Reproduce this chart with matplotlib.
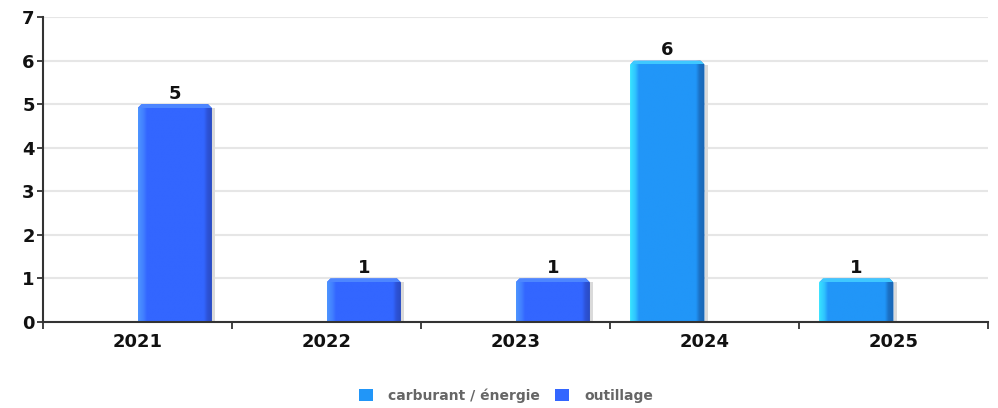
import numpy as np
import matplotlib.pyplot as plt
from matplotlib.colors import LinearSegmentedColormap
from matplotlib.patches import Patch, Polygon

years = ['2021', '2022', '2023', '2024', '2025']
carburant = [0, 0, 0, 6, 1]
outillage = [5, 1, 1, 0, 0]
series_names = ['carburant / énergie', 'outillage']

# main colour, top bevel colour, gradient stops (left highlight, body, right shade)
styles = {
    'carburant / énergie': ('#2196F8', '#3FC8FF',
                            ['#38E4FF', '#2FC4FF', '#2196F8', '#2196F8', '#1B70C4', '#1A66B4']),
    'outillage': ('#3366FF', '#4D86FF',
                  ['#4D95FF', '#4280FF', '#3366FF', '#3366FF', '#2D52D6', '#284ABF']),
}

W, H = 998, 408
AX = [43, 86, 945, 305]  # left, bottom, width, height in px
XLIM = (-0.5, 4.5)
YLIM = (0, 7)
px_x = (XLIM[1] - XLIM[0]) / AX[2]
px_y = (YLIM[1] - YLIM[0]) / AX[3]


def gradient_bars(ax, x, values, width, name):
    main, top, stops = styles[name]
    cmap = LinearSegmentedColormap.from_list(
        name, list(zip([0.0, 0.07, 0.12, 0.88, 0.93, 1.0], stops)))
    bars = ax.bar(x, values, width, color='none', edgecolor='none', zorder=2)
    grad = np.linspace(0, 1, 256).reshape(1, -1)
    for rect, v in zip(bars, values):
        if v == 0:
            continue
        x0 = rect.get_x()
        w = rect.get_width()
        c = 4 * px_x
        cy = 4 * px_y
        clip = Polygon([(x0, 0), (x0, v - cy), (x0 + c, v), (x0 + w - c, v),
                        (x0 + w, v - cy), (x0 + w, 0)], closed=True,
                       transform=ax.transData, facecolor='none', edgecolor='none')
        ax.add_patch(clip)
        # soft shadow to the right
        ax.bar(x0 + w, v - cy, 3 * px_x, align='edge', color='#DADADA',
               edgecolor='none', zorder=1.5)
        im = ax.imshow(grad, extent=(x0, x0 + w, 0, v), aspect='auto',
                       cmap=cmap, zorder=3, interpolation='bilinear')
        im.set_clip_path(clip)
        # top bevel
        tb = ax.bar(x0, 3.5 * px_y, w, bottom=v - 3.5 * px_y, align='edge',
                    color=top, edgecolor='none', zorder=3.5)
        tb[0].set_clip_path(clip)
    return bars


fig = plt.figure(figsize=(W / 100, H / 100), dpi=100)
ax = fig.add_axes([AX[0] / W, AX[1] / H, AX[2] / W, AX[3] / H])
ax.set_xlim(*XLIM)
ax.set_ylim(*YLIM)

x = np.arange(len(years))
bw = 0.394
b1 = gradient_bars(ax, x - bw / 2, carburant, bw, series_names[0])
b2 = gradient_bars(ax, x + bw / 2, outillage, bw, series_names[1])

for bars, vals in [(b1, carburant), (b2, outillage)]:
    ax.bar_label(bars, labels=[str(v) if v else '' for v in vals], padding=1,
                 fontsize=13, fontweight='bold', color='#111111', zorder=4)

ax.set_xlim(*XLIM)
ax.set_ylim(*YLIM)
ax.set_yticks(range(8))
ax.set_xticks(x)
ax.set_xticklabels(years)
ax.set_xticks(np.arange(-0.5, len(years)), minor=True)
ax.tick_params(axis='x', which='major', length=0, pad=8)
ax.tick_params(axis='x', which='minor', length=5, width=1.3, color='#333333')
ax.tick_params(axis='y', length=4, width=1.3, color='#333333', pad=2)
for lab in ax.get_xticklabels() + ax.get_yticklabels():
    lab.set_fontsize(13)
    lab.set_fontweight('bold')
    lab.set_color('#111111')

ax.grid(axis='y', color='#E6E6E6', linewidth=1.5, zorder=0)
ax.set_axisbelow(True)
for s in ['top', 'right']:
    ax.spines[s].set_visible(False)
for s in ['left', 'bottom']:
    ax.spines[s].set_color('#333333')
    ax.spines[s].set_linewidth(1.5)
    ax.spines[s].set_zorder(5)

handles = [Patch(facecolor=styles[n][0], edgecolor='none') for n in series_names]
fig.legend(handles, series_names, loc='center', bbox_to_anchor=(0.507, 0.03),
           ncol=2, frameon=False, handlelength=1.0, handleheight=1.0,
           handletextpad=1.1, columnspacing=1.1,
           prop={'size': 10, 'weight': 'bold'}, labelcolor='#666666')

fig.savefig('out.png', dpi=100)
